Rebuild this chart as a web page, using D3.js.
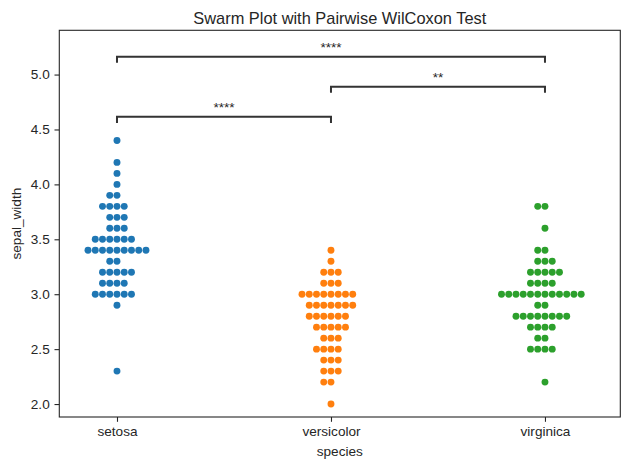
<!DOCTYPE html>
<html>
<head>
<meta charset="utf-8">
<script src="https://cdn.jsdelivr.net/npm/d3@7"></script>
<style>
  body { margin: 0; background: #fff; }
  svg { display: block; font-family: Arial, "Liberation Sans", sans-serif; }
</style>
</head>
<body>
<div id="chart"></div>
<script>
// iris sepal_width per species
const species = ['setosa', 'versicolor', 'virginica'];
const setosa = [3.5, 3.0, 3.2, 3.1, 3.6, 3.9, 3.4, 3.4, 2.9, 3.1, 3.7, 3.4, 3.0, 3.0, 4.0, 4.4, 3.9, 3.5, 3.8, 3.8,
  3.4, 3.7, 3.6, 3.3, 3.4, 3.0, 3.4, 3.5, 3.4, 3.2, 3.1, 3.4, 4.1, 4.2, 3.1, 3.2, 3.5, 3.6, 3.0, 3.4,
  3.5, 2.3, 3.2, 3.5, 3.8, 3.0, 3.8, 3.2, 3.7, 3.3];
const versicolor = [3.2, 3.2, 3.1, 2.3, 2.8, 2.8, 3.3, 2.4, 2.9, 2.7, 2.0, 3.0, 2.2, 2.9, 2.9, 3.1, 3.0, 2.7, 2.2, 2.5,
  3.2, 2.8, 2.5, 2.8, 2.9, 3.0, 2.8, 3.0, 2.9, 2.6, 2.4, 2.4, 2.7, 2.7, 3.0, 3.4, 3.1, 2.3, 3.0, 2.5,
  2.6, 3.0, 2.6, 2.3, 2.7, 3.0, 2.9, 2.9, 2.5, 2.8];
const virginica = [3.3, 2.7, 3.0, 2.9, 3.0, 3.0, 2.5, 2.9, 2.5, 3.6, 3.2, 2.7, 3.0, 2.5, 2.8, 3.2, 3.0, 3.8, 2.6, 2.2,
  3.2, 2.8, 2.8, 2.7, 3.3, 3.2, 2.8, 3.0, 2.8, 3.0, 2.8, 3.8, 2.8, 2.8, 2.6, 3.0, 3.4, 3.1, 3.0, 3.1,
  3.1, 3.1, 2.7, 3.2, 3.3, 3.0, 2.5, 3.0, 3.4, 3.0];
const groups = [setosa, versicolor, virginica];
const colors = ['#1f77b4', '#ff7f0e', '#2ca02c'];

// pairwise Wilcoxon annotations
const pairs = [[0, 1], [1, 2], [0, 2]];
const pairLabels = ['****', '**', '****'];
const pairLevels = [0, 1, 2];

const yTicks = [2.0, 2.5, 3.0, 3.5, 4.0, 4.5, 5.0];

const width = 630, height = 470;
const m = { left: 59.3, right: 620.3, top: 30.3, bottom: 417 };
const textColor = '#262626';

const svg = d3.select('#chart').append('svg')
  .attr('width', width)
  .attr('height', height);

const x = d3.scaleLinear().domain([-0.2696, 2.352]).range([m.left, m.right]);
const y = d3.scaleLinear().domain([1.882, 5.403]).range([m.bottom, m.top]);

// swarm layout, same idea as seaborn's beeswarm
const r = 3.45;
function swarm(values, cx) {
  const placed = [];
  const sorted = values.slice().sort((a, b) => a - b);
  sorted.forEach(v => {
    const py = y(v);
    const neighbors = placed.filter(p => Math.abs(p.y - py) < 2 * r);
    const cands = [cx];
    let leftFirst = true;
    neighbors.forEach(n => {
      const dy = py - n.y;
      const dx = Math.sqrt(Math.max(4 * r * r - dy * dy, 0)) * 1.05;
      if (leftFirst) cands.push(n.x - dx, n.x + dx);
      else cands.push(n.x + dx, n.x - dx);
      leftFirst = !leftFirst;
    });
    const order = cands.map((c, i) => ({ c, i }))
      .sort((a, b) => {
        const d = Math.abs(a.c - cx) - Math.abs(b.c - cx);
        return Math.abs(d) > 1e-6 ? d : a.i - b.i;
      });
    const pick = order.find(o => neighbors.every(n =>
      (o.c - n.x) ** 2 + (py - n.y) ** 2 >= (2 * r) ** 2 - 1e-6));
    placed.push({ x: pick.c, y: py, v });
  });
  return placed;
}

groups.forEach((vals, gi) => {
  svg.append('g')
    .selectAll('circle')
    .data(swarm(vals, x(gi)))
    .join('circle')
    .attr('cx', d => d.x)
    .attr('cy', d => d.y)
    .attr('r', r)
    .attr('fill', colors[gi]);
});

// brackets
const maxVal = d3.max(groups.flat());
const tip = 0.055;
pairs.forEach((p, i) => {
  const ly = maxVal + 0.215 + pairLevels[i] * 0.274;
  const x1 = x(p[0]), x2 = x(p[1]);
  svg.append('path')
    .attr('d', `M${x1},${y(ly - tip)}V${y(ly)}H${x2}V${y(ly - tip)}`)
    .attr('fill', 'none')
    .attr('stroke', '#333')
    .attr('stroke-width', 2);
  svg.append('text')
    .attr('x', (x1 + x2) / 2)
    .attr('y', y(ly) - 4.5)
    .attr('text-anchor', 'middle')
    .attr('font-size', '13.6px')
    .attr('fill', textColor)
    .text(pairLabels[i]);
});

// axes
const xAxis = d3.axisBottom(x)
  .tickValues(d3.range(species.length))
  .tickFormat(i => species[i])
  .tickSize(4.8)
  .tickPadding(4.8);
const yAxis = d3.axisLeft(y)
  .tickValues(yTicks)
  .tickFormat(d3.format('.1f'))
  .tickSize(4.8)
  .tickPadding(4.8);

const gx = svg.append('g').attr('transform', `translate(0,${m.bottom})`).call(xAxis);
const gy = svg.append('g').attr('transform', `translate(${m.left},0)`).call(yAxis);
[gx, gy].forEach(g => {
  g.select('.domain').remove();
  g.selectAll('line').attr('stroke', textColor).attr('stroke-width', 1.1);
  g.selectAll('text').attr('fill', textColor).attr('font-size', '13.6px')
    .attr('font-family', 'Arial, "Liberation Sans", sans-serif');
});

svg.append('rect')
  .attr('x', m.left).attr('y', m.top)
  .attr('width', m.right - m.left).attr('height', m.bottom - m.top)
  .attr('fill', 'none')
  .attr('stroke', textColor)
  .attr('stroke-width', 1.1);

// labels
svg.append('text')
  .attr('x', (m.left + m.right) / 2).attr('y', 24)
  .attr('text-anchor', 'middle')
  .attr('font-size', '16.4px')
  .attr('fill', textColor)
  .text('Swarm Plot with Pairwise WilCoxon Test');

svg.append('text')
  .attr('x', (m.left + m.right) / 2).attr('y', 456)
  .attr('text-anchor', 'middle')
  .attr('font-size', '13.6px')
  .attr('fill', textColor)
  .text('species');

svg.append('text')
  .attr('transform', `translate(21,${(m.top + m.bottom) / 2}) rotate(-90)`)
  .attr('text-anchor', 'middle')
  .attr('font-size', '13.6px')
  .attr('fill', textColor)
  .text('sepal_width');
</script>
</body>
</html>
